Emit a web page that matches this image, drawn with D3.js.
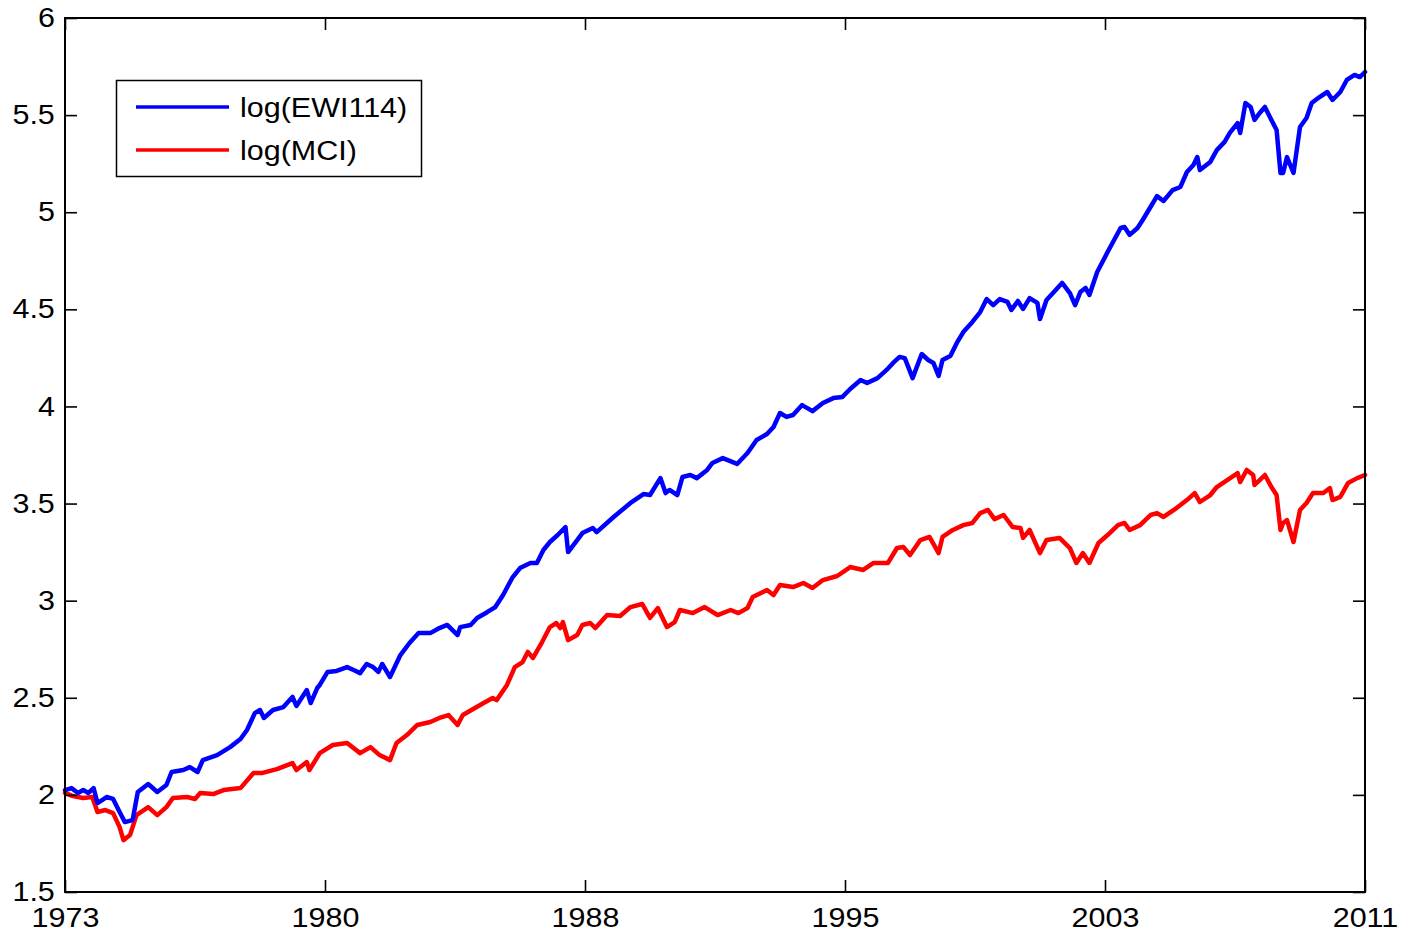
<!DOCTYPE html>
<html>
<head>
<meta charset="utf-8">
<script src="https://cdn.jsdelivr.net/npm/d3@7"></script>
<style>
  html, body { margin: 0; padding: 0; background: #fff; }
  svg { display: block; }
  text { font-family: "Liberation Sans", Arial, Helvetica, sans-serif; }
</style>
</head>
<body>
<svg id="chart" width="1402" height="939"></svg>
<script>
// ---- Data (observation index 0..1000, log values) ----
const tickLabels = ["1973", "1980", "1988", "1995", "2003", "2011"];
const tickObs = [0, 200, 400, 600, 800, 1000];
const yTicks = [1.5, 2, 2.5, 3, 3.5, 4, 4.5, 5, 5.5, 6];
const seriesNames = ["log(EWI114)", "log(MCI)"];

const ewiObs = [0,5,10,14,18,22,25,32,37,42,46,52,56,64,71,78,82,91,96,102,106,117,127,135,140,146,150,153,160,168,175,178,186,189,194,196,202,209,217,222,227,232,237,241,244,250,258,265,272,281,288,294,302,304,312,317,325,331,337,344,350,358,363,368,373,379,385,387,394,398,406,409,422,435,445,450,458,462,465,471,475,481,486,494,498,506,517,525,532,540,545,550,555,560,567,575,583,591,598,604,612,617,625,632,637,642,646,652,659,664,668,672,675,681,686,691,698,704,709,714,719,725,728,733,737,742,748,750,755,760,767,773,777,781,785,788,794,802,812,815,819,825,829,835,840,845,852,858,863,868,871,873,881,886,892,896,902,904,908,912,915,919,923,928,932,935,937,940,945,950,955,959,965,971,975,981,986,992,996,1000];
const ewiVal = [2.025,2.035,2.010,2.025,2.010,2.035,1.958,1.989,1.979,1.912,1.860,1.870,2.015,2.056,2.015,2.051,2.118,2.128,2.143,2.118,2.179,2.205,2.246,2.288,2.334,2.421,2.437,2.396,2.437,2.452,2.504,2.458,2.540,2.473,2.550,2.566,2.633,2.638,2.658,2.643,2.627,2.674,2.658,2.633,2.674,2.607,2.720,2.782,2.833,2.833,2.859,2.875,2.823,2.864,2.875,2.911,2.942,2.967,3.029,3.117,3.168,3.194,3.194,3.261,3.302,3.338,3.379,3.250,3.312,3.348,3.374,3.353,3.431,3.503,3.549,3.544,3.631,3.554,3.570,3.544,3.637,3.647,3.631,3.673,3.709,3.734,3.704,3.760,3.827,3.858,3.894,3.966,3.946,3.956,4.007,3.976,4.018,4.043,4.049,4.090,4.136,4.121,4.146,4.188,4.224,4.255,4.249,4.146,4.270,4.239,4.224,4.157,4.239,4.260,4.327,4.383,4.435,4.486,4.553,4.522,4.553,4.538,4.497,4.543,4.502,4.558,4.533,4.450,4.548,4.584,4.636,4.584,4.522,4.589,4.610,4.574,4.692,4.795,4.919,4.924,4.883,4.919,4.960,5.027,5.083,5.058,5.114,5.130,5.207,5.243,5.284,5.217,5.259,5.320,5.362,5.408,5.459,5.408,5.562,5.542,5.475,5.511,5.542,5.475,5.423,5.202,5.202,5.284,5.202,5.439,5.485,5.562,5.593,5.619,5.578,5.619,5.681,5.707,5.696,5.722];

const mciObs = [0,6,14,21,25,31,37,42,45,50,55,64,71,78,83,94,100,104,114,122,135,145,152,163,175,178,186,188,196,206,217,227,235,242,250,255,263,271,281,288,295,302,306,314,322,329,332,340,346,352,356,360,367,373,378,381,383,387,394,398,404,408,417,427,435,444,450,456,463,469,473,483,492,502,512,518,525,529,540,545,550,560,568,575,583,594,604,614,622,633,640,645,650,658,665,672,675,683,691,698,704,710,715,722,729,735,737,742,750,755,765,773,778,783,788,795,802,810,815,819,827,835,840,845,855,863,869,873,881,886,894,902,904,909,914,915,919,923,928,932,935,937,940,945,950,955,960,968,973,975,981,987,994,1000];
const mciVal = [2.010,1.994,1.984,1.989,1.912,1.922,1.906,1.834,1.767,1.793,1.896,1.937,1.896,1.937,1.984,1.989,1.979,2.010,2.004,2.025,2.035,2.113,2.113,2.133,2.164,2.128,2.169,2.128,2.215,2.257,2.267,2.215,2.246,2.205,2.179,2.267,2.308,2.360,2.375,2.396,2.411,2.360,2.411,2.442,2.473,2.499,2.488,2.566,2.658,2.684,2.736,2.705,2.787,2.864,2.885,2.859,2.890,2.797,2.823,2.875,2.885,2.859,2.926,2.921,2.967,2.983,2.911,2.962,2.864,2.890,2.952,2.936,2.967,2.926,2.952,2.936,2.962,3.019,3.055,3.029,3.081,3.070,3.091,3.065,3.106,3.127,3.173,3.158,3.194,3.194,3.271,3.276,3.235,3.312,3.328,3.245,3.328,3.364,3.389,3.400,3.451,3.467,3.420,3.441,3.379,3.374,3.323,3.364,3.245,3.312,3.323,3.271,3.194,3.245,3.194,3.297,3.338,3.389,3.400,3.364,3.389,3.441,3.451,3.431,3.477,3.518,3.554,3.508,3.544,3.585,3.621,3.657,3.611,3.673,3.647,3.596,3.621,3.647,3.585,3.544,3.364,3.400,3.415,3.302,3.467,3.503,3.554,3.554,3.580,3.518,3.534,3.606,3.631,3.647];

(function () {
// ---- Layout ----
const svg = d3.select("#chart");
const pL = 65, pR = 1365, pT = 18, pB = 892;
const fontSize = 27, sx = 1.13;

const x = d3.scaleLinear().domain([0, 1000]).range([pL, pR]);
const y = d3.scaleLinear().domain([1.5, 6]).range([pB, pT]);

const ewi = ewiObs.map((t, i) => [t, ewiVal[i]]);
const mci = mciObs.map((t, i) => [t, mciVal[i]]);

const line = d3.line().x(d => x(d[0])).y(d => y(d[1]));

svg.append("path").datum(mci)
  .attr("d", line).attr("fill", "none").attr("stroke", "#ff0000")
  .attr("stroke-width", 4.5).attr("stroke-linejoin", "round").attr("stroke-linecap", "round");
svg.append("path").datum(ewi)
  .attr("d", line).attr("fill", "none").attr("stroke", "#0000ff")
  .attr("stroke-width", 4.5).attr("stroke-linejoin", "round").attr("stroke-linecap", "round");

// ---- Axes (ticks inward on all four sides) ----
const tickLen = 12;
const fmtY = d => String(d);
const labelMap = new Map(tickObs.map((t, i) => [t, tickLabels[i]]));

function styleAxis(g) {
  g.select(".domain").remove();
  g.selectAll(".tick line").attr("stroke", "#000").attr("stroke-width", 1.6);
  g.selectAll("text").attr("font-size", fontSize).attr("fill", "#000")
    .attr("font-family", '"Liberation Sans", Arial, sans-serif');
}

const gLeft = svg.append("g").attr("transform", `translate(${pL},0)`)
  .call(d3.axisLeft(y).tickValues(yTicks).tickFormat(fmtY).tickSize(-tickLen).tickPadding(9));
styleAxis(gLeft);
gLeft.selectAll("text").attr("transform", `scale(${sx},1)`);

const gRight = svg.append("g").attr("transform", `translate(${pR},0)`)
  .call(d3.axisRight(y).tickValues(yTicks).tickFormat("").tickSize(-tickLen));
styleAxis(gRight);

const gBottom = svg.append("g").attr("transform", `translate(0,${pB})`)
  .call(d3.axisBottom(x).tickValues(tickObs).tickFormat(d => labelMap.get(d)).tickSize(-tickLen).tickPadding(16));
styleAxis(gBottom);
gBottom.selectAll("text").attr("transform", `scale(${sx},1)`);

const gTop = svg.append("g").attr("transform", `translate(0,${pT})`)
  .call(d3.axisTop(x).tickValues(tickObs).tickFormat("").tickSize(-tickLen));
styleAxis(gTop);

// Box
svg.append("rect").attr("x", pL).attr("y", pT)
  .attr("width", pR - pL).attr("height", pB - pT)
  .attr("fill", "none").attr("stroke", "#000").attr("stroke-width", 2);

// ---- Legend ----
const lg = svg.append("g");
lg.append("rect").attr("x", 116.5).attr("y", 80.5).attr("width", 305).attr("height", 96)
  .attr("fill", "#fff").attr("stroke", "#000").attr("stroke-width", 1.5);
const legColors = ["#0000ff", "#ff0000"];
const legY = [107, 150];
seriesNames.forEach((name, i) => {
  lg.append("line").attr("x1", 136).attr("x2", 229).attr("y1", legY[i]).attr("y2", legY[i])
    .attr("stroke", legColors[i]).attr("stroke-width", 3.5);
  lg.append("text").attr("transform", `translate(240,${legY[i]}) scale(${sx},1)`)
    .attr("dy", "0.36em").attr("font-size", fontSize).attr("fill", "#000").text(name);
});
})();
</script>
</body>
</html>
